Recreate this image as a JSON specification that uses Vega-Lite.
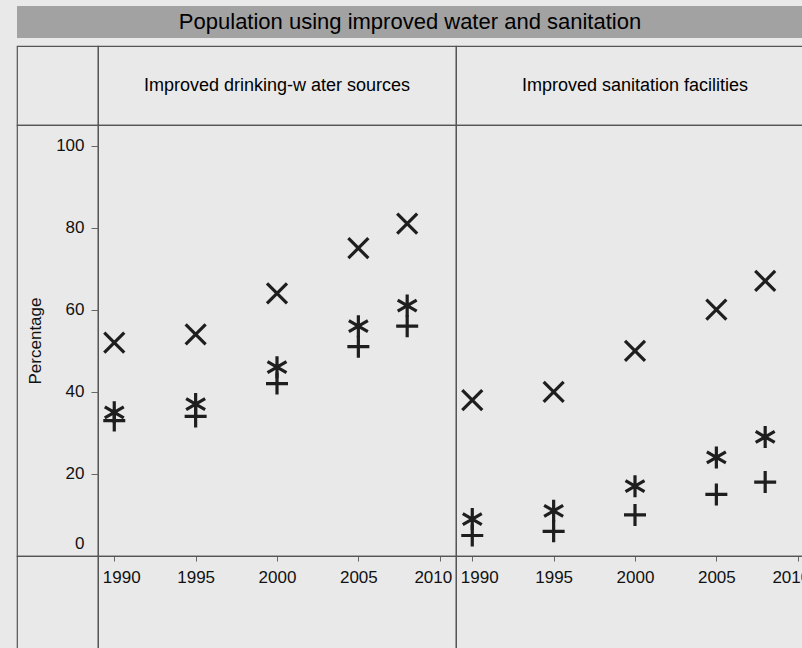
{
  "$schema": "https://vega.github.io/schema/vega-lite/v6.json",
  "background": "#e9e9e9",
  "padding": {"left": 16, "top": 6, "right": 0, "bottom": 0},
  "config": {
    "font": "Liberation Sans",
    "view": {"stroke": "#555555", "strokeWidth": 1.2},
    "concat": {"spacing": 0},
    "axis": {"labelFont": "Liberation Sans", "titleFont": "Liberation Sans", "labelColor": "#111111", "titleColor": "#111111"}
  },
  "datasets": {
    "banner": [{"t": "Population using improved water and sanitation"}],
    "blank": [{"t": ""}],
    "head1": [{"t": "Improved drinking-w ater sources"}],
    "head2": [{"t": "Improved sanitation facilities"}],
    "water": [
      {"year": 1990, "series": "Urban", "value": 52},
      {"year": 1995, "series": "Urban", "value": 54},
      {"year": 2000, "series": "Urban", "value": 64},
      {"year": 2005, "series": "Urban", "value": 75},
      {"year": 2008, "series": "Urban", "value": 81},
      {"year": 1990, "series": "Total", "value": 35},
      {"year": 1995, "series": "Total", "value": 37},
      {"year": 2000, "series": "Total", "value": 46},
      {"year": 2005, "series": "Total", "value": 56},
      {"year": 2008, "series": "Total", "value": 61},
      {"year": 1990, "series": "Rural", "value": 33},
      {"year": 1995, "series": "Rural", "value": 34},
      {"year": 2000, "series": "Rural", "value": 42},
      {"year": 2005, "series": "Rural", "value": 51},
      {"year": 2008, "series": "Rural", "value": 56}
    ],
    "sanitation": [
      {"year": 1990, "series": "Urban", "value": 38},
      {"year": 1995, "series": "Urban", "value": 40},
      {"year": 2000, "series": "Urban", "value": 50},
      {"year": 2005, "series": "Urban", "value": 60},
      {"year": 2008, "series": "Urban", "value": 67},
      {"year": 1990, "series": "Total", "value": 9},
      {"year": 1995, "series": "Total", "value": 11},
      {"year": 2000, "series": "Total", "value": 17},
      {"year": 2005, "series": "Total", "value": 24},
      {"year": 2008, "series": "Total", "value": 29},
      {"year": 1990, "series": "Rural", "value": 5},
      {"year": 1995, "series": "Rural", "value": 6},
      {"year": 2000, "series": "Rural", "value": 10},
      {"year": 2005, "series": "Rural", "value": 15},
      {"year": 2008, "series": "Rural", "value": 18}
    ]
  },
  "vconcat": [
    {
      "width": 786,
      "height": 32,
      "view": {"fill": "#a2a2a2", "stroke": null},
      "data": {"name": "banner"},
      "mark": {"type": "text", "fontSize": 22, "color": "#000000"},
      "encoding": {"text": {"field": "t"}}
    },
    {
      "columns": 3,
      "spacing": 0,
      "bounds": "flush",
      "concat": [
        {
          "width": 81, "height": 79,
          "view": {"stroke": "#555555", "strokeWidth": 1.2},
          "data": {"name": "blank"},
          "mark": {"type": "text"},
          "encoding": {"text": {"field": "t"}}
        },
        {
          "width": 358, "height": 79,
          "view": {"stroke": "#555555", "strokeWidth": 1.2},
          "data": {"name": "head1"},
          "mark": {"type": "text", "fontSize": 18, "color": "#000000"},
          "encoding": {"text": {"field": "t"}}
        },
        {
          "width": 358, "height": 79,
          "view": {"stroke": "#555555", "strokeWidth": 1.2},
          "data": {"name": "head2"},
          "mark": {"type": "text", "fontSize": 18, "color": "#000000"},
          "encoding": {"text": {"field": "t"}}
        },
        {
          "width": 81, "height": 431,
          "view": {"stroke": "#555555", "strokeWidth": 1.2},
          "data": {"name": "blank"},
          "mark": {"type": "text"},
          "encoding": {"text": {"field": "t"}}
        },
        {
          "width": 358, "height": 431,
          "data": {"name": "water"},
          "mark": {"type": "point", "filled": false, "strokeWidth": 3.2, "size": 400, "opacity": 1},
          "encoding": {
            "x": {"field": "year", "type": "quantitative", "scale": {"domain": [1989, 2011], "nice": false},
                  "axis": {"values": [1990, 1995, 2000, 2005, 2010], "format": "d", "title": null, "grid": false, "domain": false, "tickSize": 5, "tickColor": "#666666", "labelFontSize": 17, "labelPadding": 8, "labelFlush": 20, "labelFlushOffset": 12}},
            "y": {"field": "value", "type": "quantitative", "scale": {"domain": [0, 105], "nice": false},
                  "axis": {"values": [0, 20, 40, 60, 80, 100], "title": "Percentage", "titleFontSize": 17, "titleFontWeight": "normal", "titlePadding": 11, "grid": false, "domain": false, "tickSize": 7, "tickColor": "#666666", "labelFontSize": 17, "labelPadding": 7, "labelFlush": 3, "labelFlushOffset": -4}},
            "shape": {"field": "series", "type": "nominal", "legend": null,
                      "scale": {"domain": ["Urban", "Total", "Rural"], "range": ["M-1,-1L1,1M-1,1L1,-1", "M0,-1.1L0,1.1M-0.95,-0.55L0.95,0.55M-0.95,0.55L0.95,-0.55", "M-1.1,0L1.1,0M0,-1.1L0,1.1"]}},
            "color": {"value": "#1e1e1e"}
          }
        },
        {
          "width": 358, "height": 431,
          "data": {"name": "sanitation"},
          "mark": {"type": "point", "filled": false, "strokeWidth": 3.2, "size": 400, "opacity": 1},
          "encoding": {
            "x": {"field": "year", "type": "quantitative", "scale": {"domain": [1989, 2011], "nice": false},
                  "axis": {"values": [1990, 1995, 2000, 2005, 2010], "format": "d", "title": null, "grid": false, "domain": false, "tickSize": 5, "tickColor": "#666666", "labelFontSize": 17, "labelPadding": 8, "labelFlush": 20, "labelFlushOffset": 12}},
            "y": {"field": "value", "type": "quantitative", "scale": {"domain": [0, 105], "nice": false}, "axis": null},
            "shape": {"field": "series", "type": "nominal", "legend": null,
                      "scale": {"domain": ["Urban", "Total", "Rural"], "range": ["M-1,-1L1,1M-1,1L1,-1", "M0,-1.1L0,1.1M-0.95,-0.55L0.95,0.55M-0.95,0.55L0.95,-0.55", "M-1.1,0L1.1,0M0,-1.1L0,1.1"]}},
            "color": {"value": "#1e1e1e"}
          }
        },
        {
          "width": 81, "height": 100,
          "view": {"stroke": "#555555", "strokeWidth": 1.2},
          "data": {"name": "blank"},
          "mark": {"type": "text"},
          "encoding": {"text": {"field": "t"}}
        },
        {
          "width": 358, "height": 100,
          "view": {"stroke": "#555555", "strokeWidth": 1.2},
          "data": {"name": "blank"},
          "mark": {"type": "text"},
          "encoding": {"text": {"field": "t"}}
        },
        {
          "width": 358, "height": 100,
          "view": {"stroke": "#555555", "strokeWidth": 1.2},
          "data": {"name": "blank"},
          "mark": {"type": "text"},
          "encoding": {"text": {"field": "t"}}
        }
      ]
    }
  ],
  "spacing": 7
}
